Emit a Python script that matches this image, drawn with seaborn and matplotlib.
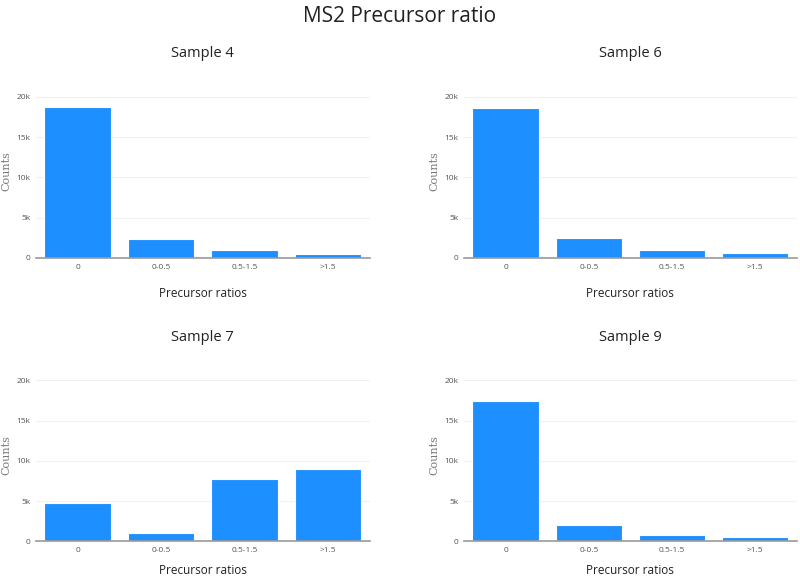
import matplotlib
matplotlib.use("Agg")
import matplotlib.pyplot as plt
import seaborn as sns
import pandas as pd

# data
categories = ["0", "0-0.5", "0.5-1.5", ">1.5"]
sample4 = [18800, 2350, 1000, 550]
sample6 = [18600, 2450, 1000, 600]
sample7 = [4800, 1000, 7800, 9000]
sample9 = [17400, 2000, 800, 500]
samples = ["Sample 4", "Sample 6", "Sample 7", "Sample 9"]

sns.set_style("white")
plt.rcParams["font.family"] = ["Open Sans", "DejaVu Sans"]

fig = plt.figure(figsize=(8, 5.81), dpi=100)
fig.suptitle("MS2 Precursor ratio", y=0.99, fontsize=15, color="#222222")

positions = [
    [0.045, 0.556, 0.417, 0.298],
    [0.580, 0.556, 0.416, 0.298],
    [0.045, 0.068, 0.417, 0.298],
    [0.580, 0.068, 0.416, 0.298],
]

for i, (name, vals, pos) in enumerate(zip(samples, [sample4, sample6, sample7, sample9], positions)):
    ax = fig.add_axes(pos)
    df = pd.DataFrame({"ratio": categories, "count": vals})
    sns.barplot(data=df, x="ratio", y="count", color="#1E8FFF", saturation=1,
                width=0.8, edgecolor="white", linewidth=0.8, ax=ax)
    ax.set_ylim(0, 21500)
    ax.set_xlim(-0.5, 3.5)
    ax.set_yticks([0, 5000, 10000, 15000, 20000])
    ax.set_yticklabels(["0", "5k", "10k", "15k", "20k"])
    ax.yaxis.grid(True, color="#f0f0f0", linewidth=0.8)
    ax.set_axisbelow(True)
    for s in ["top", "right", "left"]:
        ax.spines[s].set_visible(False)
    ax.spines["bottom"].set_color("#999999")
    ax.spines["bottom"].set_linewidth(1.2)
    ax.tick_params(axis="both", length=0, labelsize=6, colors="#555555", pad=4)
    ax.set_title(name, fontsize=10.5, color="#222222", pad=20)
    ax.set_xlabel("Precursor ratios", fontsize=8.5, color="#222222",
                  labelpad=12 if i < 2 else 7)
    ax.set_ylabel("Counts", fontsize=8, color="#777777", labelpad=4,
                  family=["DejaVu Serif"])

fig.savefig("out.png", dpi=100)
